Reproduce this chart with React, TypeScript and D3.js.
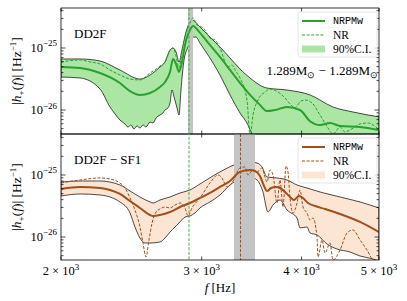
import * as React from "react";
import * as d3 from "d3";

// amplitudes in units of 1e-26 Hz^-1, frequencies in Hz
const UNIT = 1e-26;

// DD2F, 1.289 - 1.289 Msun
const dd2fNRPMw: [number, number][] = [
  [2000, 4.94], [2113, 4.76], [2238, 3.95], [2370, 2.73], [2440, 2.02], [2511, 1.75],
  [2585, 1.88], [2660, 2.35], [2699, 2.83], [2738, 4.1], [2762, 6.65], [2786, 5.52],
  [2810, 4.1], [2834, 5.95], [2859, 11.2], [2900, 19.5], [2926, 22.6], [2985, 17.5],
  [3072, 11.2], [3162, 7.16], [3255, 4.42], [3350, 2.73], [3448, 1.75], [3548, 1.21],
  [3621, 0.96], [3705, 1.0], [3836, 1.12], [3982, 1.0], [4099, 0.66], [4218, 0.573],
  [4342, 0.617], [4469, 0.552], [4734, 0.532], [5000, 0.476],
];
const dd2fUpper: [number, number][] = [
  [2000, 6.65], [2113, 6.65], [2238, 6.17], [2370, 4.42], [2511, 3.16], [2585, 3.67],
  [2660, 4.94], [2699, 5.95], [2738, 9.29], [2762, 10], [2786, 8.62], [2810, 5.95],
  [2834, 9.29], [2867, 18.1], [2900, 26.3], [2917, 28.3], [2985, 21.8], [3072, 15.0],
  [3162, 10.4], [3255, 6.9], [3350, 4.59], [3448, 3.28], [3621, 2.26], [3836, 2.1],
  [4099, 1.75], [4379, 1.12], [4639, 0.928], [5000, 0.774],
];
const dd2fLower: [number, number][] = [
  [2000, 3.4], [2113, 3.28], [2238, 2.18], [2303, 1.12], [2337, 0.862], [2370, 0.69],
  [2405, 0.595], [2426, 0.532], [2447, 0.573], [2468, 0.494], [2489, 0.552], [2511, 0.513],
  [2533, 0.573], [2555, 0.532], [2585, 0.64], [2607, 0.617], [2630, 0.743], [2660, 0.83],
  [2683, 0.895], [2699, 1.0], [2722, 1.08], [2738, 1.3], [2754, 2.1], [2770, 1.62],
  [2794, 1.08], [2810, 0.83], [2826, 2.1], [2851, 6.41], [2884, 10.4], [2917, 15.0],
  [2951, 15.0], [2985, 12.0], [3072, 6.9], [3162, 3.67], [3255, 1.75], [3350, 0.895],
  [3428, 0.573], [3467, 0.41], [3548, 0.273], [3982, 0.108], [5000, 0.051],
];
const dd2fNR: [number, number][] = [
  [2000, 5.95], [2113, 6.41], [2174, 5.95], [2238, 5.52], [2303, 4.42], [2370, 3.67],
  [2440, 3.16], [2511, 3.05], [2585, 3.95], [2622, 4.42], [2660, 5.13], [2699, 5.95],
  [2738, 9.29], [2762, 10], [2786, 7.43], [2810, 4.76], [2834, 8.62], [2867, 16.8],
  [2900, 25.3], [2926, 30.5], [2959, 23.5], [2985, 22.6], [3028, 19.5], [3072, 14.5],
  [3117, 13.5], [3162, 10], [3236, 4.94], [3273, 5.32], [3302, 4.42], [3350, 3.28],
  [3418, 1.45], [3448, 0.38], [3478, 0.83], [3528, 1.45], [3600, 1.95], [3652, 2.18],
  [3738, 1.95], [3814, 1.56], [3869, 1.25], [3925, 1.08], [3982, 1.35], [4040, 1.45],
  [4122, 1.3], [4218, 0.83], [4317, 0.513], [4379, 0.41], [4469, 0.532], [4533, 0.442],
  [4599, 0.476], [4734, 0.595], [4844, 0.617], [4972, 0.513],
];

// DD2F - SF1
const sf1NRPMw: [number, number][] = [
  [2000, 5.95], [2113, 6.41], [2238, 6.17], [2303, 5.73], [2370, 4.94], [2440, 3.81],
  [2511, 2.94], [2585, 2.26], [2607, 2.18], [2660, 2.26], [2738, 2.53], [2818, 3.05],
  [2900, 3.53], [2985, 4.26], [3072, 5.13], [3162, 6.41], [3255, 8.0], [3350, 11.2],
  [3448, 12.04], [3498, 11.6], [3548, 9.64], [3590, 6.65], [3621, 5.52], [3663, 6.17],
  [3716, 6.41], [3759, 6.17], [3814, 5.32], [3869, 4.42], [3914, 3.95], [3971, 4.59],
  [4017, 4.26], [4075, 3.53], [4158, 3.16], [4280, 2.83], [4469, 2.35], [4734, 1.75],
  [5000, 1.2],
];
const sf1Upper: [number, number][] = [
  [2000, 7.71], [2113, 8.0], [2238, 8.0], [2370, 6.9], [2440, 5.52], [2511, 4.42],
  [2585, 3.67], [2607, 3.53], [2660, 3.95], [2738, 4.42], [2818, 5.13], [2900, 5.73],
  [2985, 7.16], [3162, 11.2], [3350, 15.6], [3448, 16.2], [3518, 15.6], [3569, 13.5],
  [3621, 9.29], [3727, 8.95], [3836, 8.31], [3948, 6.9], [4063, 6.17], [4218, 5.32],
  [4469, 4.42], [4734, 3.67], [5000, 2.94],
];
const sf1Lower: [number, number][] = [
  [2000, 4.59], [2113, 4.94], [2238, 4.76], [2370, 3.67], [2440, 2.44], [2475, 1.45],
  [2511, 0.964], [2548, 0.8], [2585, 0.8], [2660, 0.83], [2699, 0.964], [2738, 1.2],
  [2778, 1.45], [2818, 1.75], [2859, 2.1], [2900, 2.18], [2942, 2.44], [2985, 2.94],
  [3072, 3.67], [3162, 4.76], [3255, 6.9], [3350, 8.62], [3448, 9.29], [3518, 8.31],
  [3579, 5.32], [3631, 2.53], [3684, 3.28], [3759, 3.95], [3836, 2.73], [3948, 2.02],
  [3982, 1.4], [4063, 1.45], [4099, 1.16], [4182, 1.08], [4304, 0.771], [4430, 0.64],
  [4599, 0.573], [4734, 0.494], [4915, 0.442], [5000, 0.41],
];
const sf1NR: [number, number][] = [
  [2000, 7.43], [2113, 8.31], [2238, 8.95], [2303, 8.62], [2370, 7.43], [2405, 6.17],
  [2440, 4.26], [2475, 2.73], [2511, 1.45], [2533, 0.8], [2555, 0.476], [2577, 0.895],
  [2600, 1.68], [2630, 2.53], [2660, 2.83], [2699, 3.05], [2738, 2.94], [2778, 3.28],
  [2818, 3.53], [2859, 2.94], [2884, 2.18], [2917, 2.94], [2985, 4.26], [3072, 7.43],
  [3144, 10], [3180, 8.95], [3227, 6.41], [3273, 7.43], [3350, 12.97], [3398, 13.5],
  [3428, 10], [3478, 12.04], [3518, 11.2], [3569, 12.97], [3600, 9.29], [3621, 7.71],
  [3652, 12.04], [3684, 10], [3727, 3.53], [3759, 8.31], [3792, 3.05], [3825, 14.0],
  [3847, 11.2], [3869, 4.26], [3903, 2.44], [3948, 3.53], [3982, 5.73], [4017, 3.05],
  [4063, 2.44], [4099, 1.88], [4134, 2.02], [4182, 1.0], [4194, 0.476], [4243, 0.895],
  [4280, 0.552], [4342, 0.8], [4379, 0.426], [4469, 0.617], [4560, 1.16], [4639, 1.3],
  [4734, 0.895], [4830, 0.617], [4915, 0.426], [4985, 0.395],
];

// peak-frequency markers
const dd2fPeak = 2892;
const dd2fPeakBand = [2884, 2926];
const sf1Peak = 3355;
const sf1PeakBand = [3292, 3498];

const xTicks = [2000, 3000, 4000, 5000];
const yMajor = [-26, -25];
const legendLabels = ["NRPMw", "NR", "90%C.I."];

const X0 = 61, X1 = 379;
const serif = "'Liberation Serif', 'Times New Roman', serif";
const mono = "'Liberation Mono', 'DejaVu Sans Mono', monospace";

const x = d3.scaleLog().domain([2000, 5000]).range([X0, X1]);

function Panel(props: any) {
  const { id, top, bottom, lo, hi, line, upper, lower, nr, color, fillColor, band, peak, label, mass } = props;
  const y = d3.scaleLog().domain([Math.pow(10, lo), Math.pow(10, hi)]).range([bottom, top]);
  const pt = (d: [number, number]) => [x(d[0]), y(d[1] * UNIT)] as [number, number];
  const curve = d3.line().curve(d3.curveMonotoneX);
  const bandPath =
    curve(upper.map(pt)) + "L" + d3.line().curve(d3.curveMonotoneX)(lower.map(pt).reverse())!.slice(1) + "Z";

  const minors: { v: number; major: boolean }[] = [];
  for (let e = -28; e <= -24; e++) {
    for (let m = 1; m <= 9; m++) {
      const v = m * Math.pow(10, e);
      const lv = Math.log10(v);
      if (lv > lo && lv < hi) minors.push({ v, major: m === 1 });
    }
  }
  const cy = (top + bottom) / 2;
  const lx = 298;
  const ly = top + 4;
  const rows = [top + 13, top + 27, top + 41];

  return (
    <g>
      <defs>
        <clipPath id={id}>
          <rect x={X0} y={top} width={X1 - X0} height={bottom - top} />
        </clipPath>
      </defs>
      <g clipPath={`url(#${id})`}>
        <path d={bandPath} fill={fillColor} stroke="#000" strokeWidth={0.7} />
        <rect x={x(band[0])} y={top} width={x(band[1]) - x(band[0])} height={bottom - top} fill="#c4c4c4" />
        <path d={curve(nr.map(pt))!} fill="none" stroke={color} strokeWidth={1} strokeDasharray="3,1.6" />
        <path d={curve(line.map(pt))!} fill="none" stroke={color} strokeWidth={2} />
        {peak != null && (
          <line x1={x(peak)} x2={x(peak)} y1={top} y2={bottom} stroke={color} strokeWidth={1} strokeDasharray="3,1.6" />
        )}
      </g>
      {/* ticks */}
      {minors.map((t, i) => {
        const yy = y(t.v);
        const len = t.major ? 4.5 : 2.5;
        return (
          <g key={i} stroke="#000" strokeWidth={0.7}>
            <line x1={X0} x2={X0 + len} y1={yy} y2={yy} />
            <line x1={X1} x2={X1 - len} y1={yy} y2={yy} />
          </g>
        );
      })}
      {xTicks.map((f, i) => (
        <g key={i} stroke="#000" strokeWidth={0.7}>
          <line x1={x(f)} x2={x(f)} y1={bottom} y2={bottom - 3.5} />
          <line x1={x(f)} x2={x(f)} y1={top} y2={top + 3.5} />
        </g>
      ))}
      {yMajor.map((e) => (
        <text key={e} x={57} y={y(Math.pow(10, e)) + 4} textAnchor="end" fontSize={12.5} fontFamily={serif}>
          10<tspan dy={-5.5} fontSize={9}>{"\u2212" + Math.abs(e)}</tspan>
        </text>
      ))}
      <text transform={`translate(21,${cy}) rotate(-90)`} textAnchor="middle" fontSize={13.5} fontFamily={serif}>
        |<tspan fontStyle="italic">h</tspan>
        <tspan dy={3} fontSize={9}>+</tspan>
        <tspan dy={-3}>(</tspan>
        <tspan fontStyle="italic">f</tspan>
        <tspan>{")| [Hz"}</tspan>
        <tspan dy={-5.5} fontSize={9}>{"\u22121"}</tspan>
        <tspan dy={5.5}>]</tspan>
      </text>
      <text x={74} y={top + 30} fontSize={13} fontFamily={serif}>{label}</text>
      {mass && (
        <text x={378} y={top + 67} textAnchor="end" fontSize={13} fontFamily={serif}>
          1.289M<tspan dy={3} fontSize={9}>⊙</tspan>
          <tspan dy={-3}>{" \u2212 1.289M"}</tspan>
          <tspan dy={3} fontSize={9}>⊙</tspan>
        </text>
      )}
      {/* legend */}
      <rect x={lx} y={ly} width={79} height={45} rx={2} fill="#fff" fillOpacity={0.8} stroke="#dddddd" strokeWidth={0.8} />
      <line x1={302} x2={325} y1={rows[0]} y2={rows[0]} stroke={color} strokeWidth={2} />
      <line x1={302} x2={325} y1={rows[1]} y2={rows[1]} stroke={color} strokeWidth={1} strokeDasharray="3,1.6" />
      <rect x={302} y={rows[2] - 3.5} width={23} height={7} fill={fillColor} />
      <text x={333} y={rows[0] + 3} fontSize={10} fontFamily={mono}>{legendLabels[0]}</text>
      <text x={333} y={rows[1] + 4} fontSize={11.5} fontFamily={serif}>{legendLabels[1]}</text>
      <text x={333} y={rows[2] + 4} fontSize={11.5} fontFamily={serif}>{legendLabels[2]}</text>
      <rect x={X0} y={top} width={X1 - X0} height={bottom - top} fill="none" stroke="#000" strokeWidth={0.8} />
    </g>
  );
}

export default function App() {
  const green = "#2ca02c";
  const brown = "#a0501c";
  return (
    <svg width={407} height={301} style={{ position: "absolute", left: 0, top: 0, background: "#fff" }}>
      <Panel
        id="clipTop" top={8} bottom={134} lo={-26.387} hi={-24.355}
        line={dd2fNRPMw} upper={dd2fUpper} lower={dd2fLower} nr={dd2fNR}
        color={green} fillColor="#abe6a5" band={dd2fPeakBand} peak={null}
        label="DD2F" mass
      />
      <Panel
        id="clipBot" top={134} bottom={260} lo={-26.371} hi={-24.339}
        line={sf1NRPMw} upper={sf1Upper} lower={sf1Lower} nr={sf1NR}
        color={brown} fillColor="#fde5d4" band={sf1PeakBand} peak={sf1Peak}
        label={"DD2F \u2212 SF1"} mass={false}
      />
      <line x1={x(dd2fPeak)} x2={x(dd2fPeak)} y1={8} y2={260} stroke="#3cb43c" strokeWidth={1} strokeDasharray="3,1.6" />
      {xTicks.map((f) => (
        <text key={f} x={x(f)} y={275} textAnchor="middle" fontSize={12.5} fontFamily={serif}>
          {f / 1000 + " \u00d7 10"}<tspan dy={-5.5} fontSize={9}>3</tspan>
        </text>
      ))}
      <text x={220} y={292} textAnchor="middle" fontSize={13} fontFamily={serif}>
        <tspan fontStyle="italic">f</tspan>{" [Hz]"}
      </text>
    </svg>
  );
}
